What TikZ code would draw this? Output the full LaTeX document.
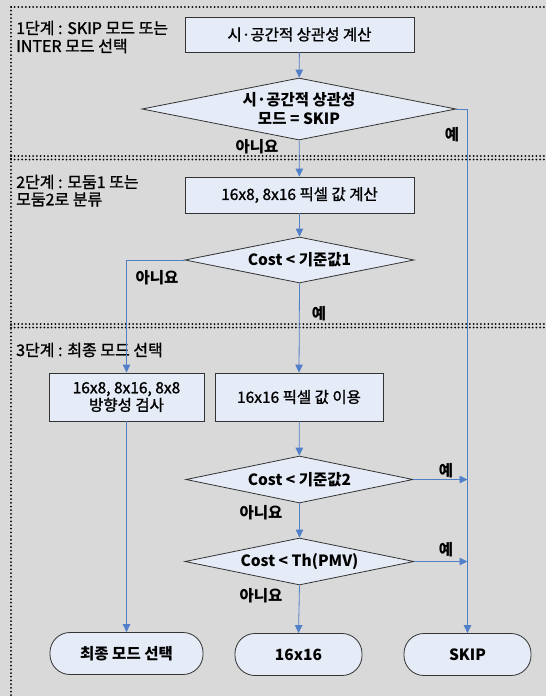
\documentclass[tikz,border=0pt]{standalone}
\usepackage{fontspec}
\setmainfont{Noto Sans CJK KR}
\newfontfamily\krmed{Noto Sans CJK KR}[FakeBold=1.3]
\usetikzlibrary{shapes.geometric,arrows.meta}
\definecolor{bgc}{HTML}{D9D9D9}
\definecolor{nodefill}{HTML}{E6ECF7}
\definecolor{linec}{HTML}{5280C8}
\definecolor{edgec}{HTML}{333333}
\tikzset{
  every node/.style={font=\krmed\fontsize{15.5}{18}\selectfont},
  procbox/.style={draw=edgec,fill=nodefill,line width=0.8pt,inner sep=0pt,align=center},
  decision/.style={diamond,aspect=5,draw=edgec,fill=nodefill,line width=0.8pt,inner sep=0pt,align=center,font=\fontsize{15.5}{19}\selectfont\bfseries},
  terminal/.style={draw=edgec,fill=nodefill,line width=0.8pt,inner sep=0pt,rounded corners=20pt,align=center,font=\fontsize{15.5}{18}\selectfont\bfseries},
  conn/.style={draw=linec,line width=0.8pt},
  arr/.style={conn,-{Triangle[length=8pt,width=7.5pt]}},
  stagelbl/.style={anchor=west,inner sep=0pt,align=left,font=\krmed\fontsize{16}{18}\selectfont},
  ansl/.style={inner sep=0pt,font=\fontsize{15.5}{18}\selectfont\bfseries},
  dotline/.style={line width=2pt,line cap=round,dash pattern=on 0pt off 3.7pt,draw=black}
}
\begin{document}
\begin{tikzpicture}[x=1pt,y=-1pt]
\fill[bgc] (0,0) rectangle (546,696);
\useasboundingbox (0,0) rectangle (546,696);
% stage frame (dotted)
\draw[dotline] (11,7) -- (546,7);
\draw[dotline] (11,7) -- (11,696);
\draw[dotline] (11,156) -- (546,156);
\draw[dotline] (11,159.5) -- (546,159.5);
\draw[dotline] (11,324) -- (546,324);
\draw[dotline] (11,327.5) -- (546,327.5);
% stage labels
\node[stagelbl] (s1a) at (16,28) {1단계 : SKIP 모드 또는};
\node[stagelbl] (s1b) at (16,46) {INTER 모드 선택};
\node[stagelbl] (s2a) at (16,182) {2단계 : 모둠1 또는};
\node[stagelbl] (s2b) at (16,199.5) {모둠2로 분류};
\node[stagelbl] (s3) at (16,350) {3단계 : 최종 모드 선택};
% nodes
\node[procbox,minimum width=229pt,minimum height=35pt] (b1) at (299.5,34.5) {시·공간적 상관성 계산};
\node[decision,minimum width=314pt,minimum height=62pt] (d1) at (299,109) {시·공간적 상관성\\모드 = SKIP};
\node[procbox,minimum width=229pt,minimum height=36pt] (b2) at (299.5,195) {16x8, 8x16 픽셀 값 계산};
\node[decision,minimum width=229pt,minimum height=46pt] (d2) at (299.5,260) {Cost < 기준값1};
\node[procbox,minimum width=155pt,minimum height=48pt,font=\krmed\fontsize{15.5}{17.5}\selectfont] (b3a) at (126.5,397) {16x8, 8x16, 8x8\\방향성 검사};
\node[procbox,minimum width=168pt,minimum height=48pt] (b3b) at (299,397) {16x16 픽셀 값 이용};
\node[decision,minimum width=227pt,minimum height=47pt] (d3) at (299.5,479.5) {Cost < 기준값2};
\node[decision,minimum width=229pt,minimum height=47pt] (d4) at (299.5,561.5) {Cost < Th(PMV)};
\node[terminal,minimum width=153pt,minimum height=42pt] (t1) at (126.5,653.5) {최종 모드 선택};
\node[terminal,minimum width=127pt,minimum height=42pt] (t2) at (298.5,654.5) {16x16};
\node[terminal,minimum width=127pt,minimum height=42pt] (t3) at (467.5,654.5) {SKIP};
% connectors
\draw[arr] (b1) -- (d1);
\draw[arr] (d1) -- (b2);
\draw[arr] (b2) -- (d2);
\draw[arr] (d2.west) -| (b3a.north);
\draw[arr] (d2.south) -- (b3b.north);
\draw[arr] (b3a.south) -- (t1.north);
\draw[arr] (b3b) -- (d3);
\draw[arr] (d3) -- (d4);
\draw[arr] (d4.south) -- (t2.north);
\draw[arr] (d1.east) -- (d1.east -| t3.north) -- (t3.north);
\draw[arr] (d3.east) -- (d3.east -| t3.north);
\draw[arr] (d4.east) -- (d4.east -| t3.north);
% answer labels
\node[ansl] (l1n) at (257,147) {아니요};
\node[ansl] (l1y) at (452,135) {예};
\node[ansl] (l2n) at (157,278) {아니요};
\node[ansl] (l2y) at (319,314) {예};
\node[ansl] (l3y) at (446,471) {예};
\node[ansl] (l3n) at (261,513) {아니요};
\node[ansl] (l4y) at (446,550) {예};
\node[ansl] (l4n) at (261,596) {아니요};
\end{tikzpicture}
\end{document}
